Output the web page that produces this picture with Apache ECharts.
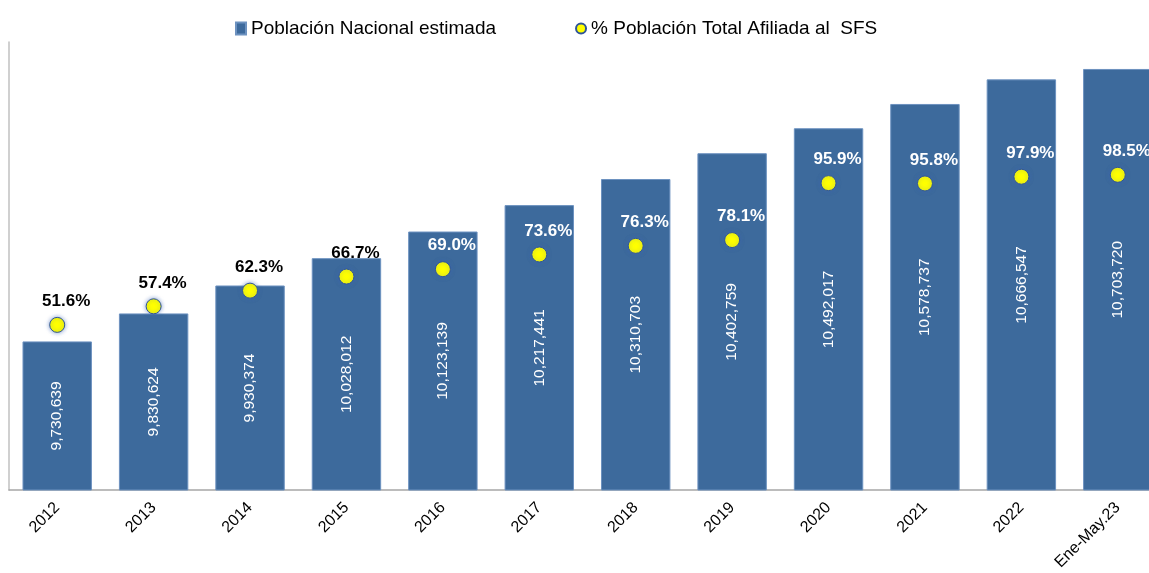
<!DOCTYPE html>
<html>
<head>
<meta charset="utf-8">
<script src="https://cdn.jsdelivr.net/npm/echarts@6/dist/echarts.min.js"></script>
<style>
  html, body { margin: 0; padding: 0; background: #fff; overflow: hidden; }
  #chart { width: 1166px; height: 573px; }
</style>
</head>
<body>
<div id="chart"></div>
<script>
const categories = ["2012", "2013", "2014", "2015", "2016", "2017", "2018", "2019", "2020", "2021", "2022", "Ene-May.23"];
const poblacion = [9730639, 9830624, 9930374, 10028012, 10123139, 10217441, 10310703, 10402759, 10492017, 10578737, 10666547, 10703720];
const afiliada = [51.6, 57.4, 62.3, 66.7, 69.0, 73.6, 76.3, 78.1, 95.9, 95.8, 97.9, 98.5];

const font = "'Liberation Sans', Arial, sans-serif";
// the last bar runs past the window edge in the original, so the canvas is a bit wider
const chart = echarts.init(document.getElementById("chart"));

chart.setOption({
  animation: false,
  textStyle: { fontFamily: font },
  legend: {
    top: 14,
    left: 230,
    itemWidth: 10,
    itemHeight: 12,
    itemGap: 79,
    textStyle: { fontSize: 19, color: "#000", fontFamily: font },
    data: [
      { name: "Población Nacional estimada", icon: "rect" },
      { name: "% Población Total Afiliada al  SFS", icon: "circle" }
    ]
  },
  grid: { left: 9, right: 0, top: 42, bottom: 83 },
  xAxis: {
    type: "category",
    data: categories,
    axisLine: { lineStyle: { color: "#a6a6a6", width: 1.5 } },
    axisTick: { show: false },
    axisLabel: { rotate: 45, fontSize: 16, color: "#000", margin: 15, interval: 0 }
  },
  yAxis: [
    {
      type: "value",
      min: 9200000,
      max: 10800000,
      axisLine: { show: true, lineStyle: { color: "#c0c0c0", width: 1.5 } },
      axisTick: { show: false },
      axisLabel: { show: false },
      splitLine: { show: false }
    },
    {
      type: "value",
      min: 0,
      max: 140,
      show: false,
      splitLine: { show: false }
    }
  ],
  series: [
    {
      name: "Población Nacional estimada",
      type: "bar",
      data: poblacion,
      barCategoryGap: "28%",
      itemStyle: { color: "#3d6a9c", borderColor: "#6d92c0", borderWidth: 1 },
      label: {
        show: true,
        position: "inside",
        rotate: 90,
        color: "#fff",
        fontSize: 15.5,
        formatter: (p) => p.value.toLocaleString("en-US")
      }
    },
    {
      name: "% Población Total Afiliada al  SFS",
      type: "scatter",
      yAxisIndex: 1,
      symbolSize: 15,
      z: 5,
      itemStyle: {
        color: "#ffff00",
        opacity: 1,
        borderColor: "#2f5597",
        borderWidth: 1,
        shadowColor: "rgba(60,100,180,0.6)",
        shadowBlur: 4
      },
      label: {
        show: true,
        position: "top",
        distance: 7,
        offset: [9, 0],
        fontSize: 17,
        fontWeight: "bold",
        formatter: (p) => p.value.toFixed(1) + "%"
      },
      data: afiliada.map((v, i) => ({ value: v, label: { color: i < 4 ? "#000" : "#fff" } }))
    }
  ]
});
</script>
</body>
</html>
